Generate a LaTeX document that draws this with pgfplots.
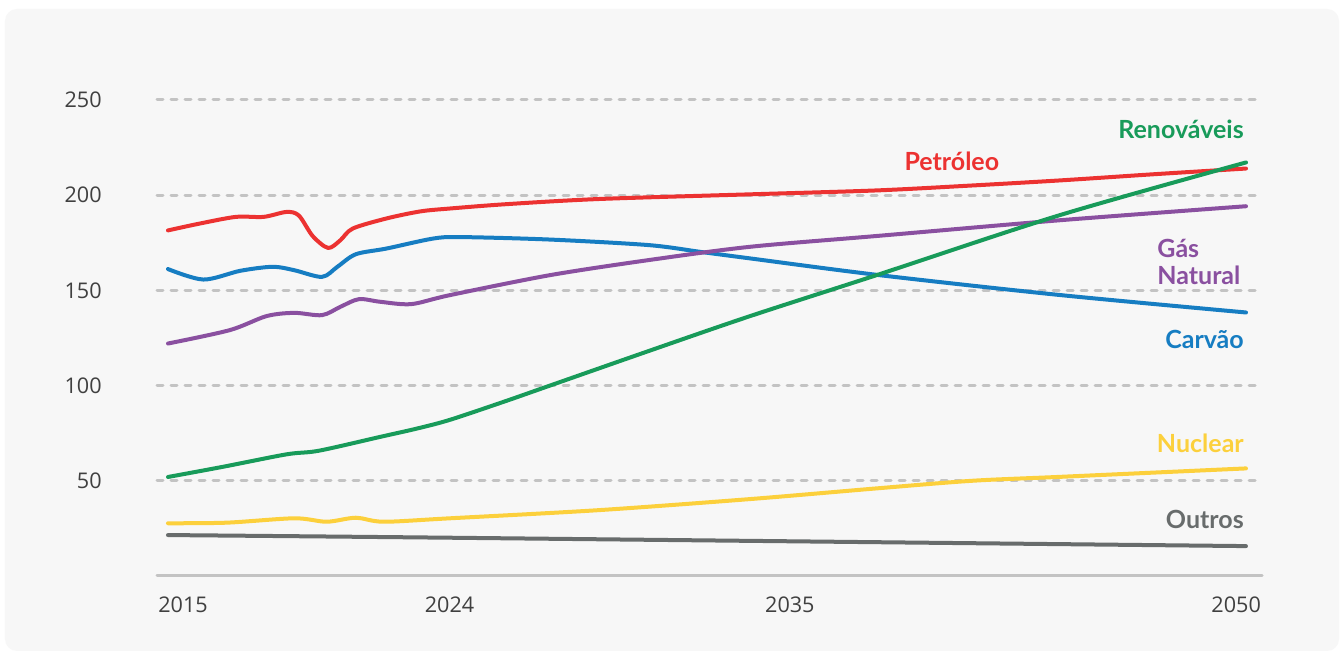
\documentclass[border=0pt]{standalone}
\usepackage{fontspec}
\setmainfont{Open Sans}
\newfontfamily\labfont{Lato}
\usepackage{pgfplots}
\pgfplotsset{compat=1.18}

\definecolor{cRed}{RGB}{236,50,49}
\definecolor{cBlue}{RGB}{22,125,194}
\definecolor{cPurple}{RGB}{138,80,160}
\definecolor{cGreen}{RGB}{24,155,90}
\definecolor{cYellow}{RGB}{252,208,60}
\definecolor{cGray}{RGB}{104,108,108}
\definecolor{gridGray}{RGB}{195,195,195}
\definecolor{tickGray}{RGB}{64,64,64}
\definecolor{bgGray}{RGB}{247,247,247}

\tikzset{serieslabel/.style={inner sep=0pt, font=\labfont\bfseries\fontsize{12.5}{14}\selectfont}}

\begin{document}
\begin{tikzpicture}
% page and card background
\fill[white] (-78.5pt,-38pt) rectangle (593.5pt,288pt);
\fill[bgGray, rounded corners=6pt] (-76pt,-37.5pt) rectangle (591pt,283.5pt);

\begin{axis}[
    scale only axis,
    width=552.5pt, height=238pt,
    xmin=2014.643, xmax=2050.52,
    ymin=0, ymax=250,
    axis line style={draw=none},
    ytick={50,100,150,200,250},
    xtick={2015.49,2024.14,2035.19,2049.68},
    xticklabels={2015,2024,2035,2050},
    major tick length=0pt,
    ymajorgrids,
    grid style={gridGray, line width=1.5pt, line cap=round, dash pattern=on 3pt off 4pt},
    tick label style={font=\fontsize{10.8}{12}\selectfont, text=tickGray},
    /pgf/number format/assume math mode=true,
    yticklabel style={anchor=east, inner sep=0pt, xshift=-27.5pt},
    xticklabel style={anchor=base, inner sep=0pt, yshift=-18.5pt},
    clip=false,
    every axis plot/.append style={line width=2pt, line cap=round, line join=round, smooth, no markers},
]

\draw[gridGray, line width=1.5pt, line cap=round] (rel axis cs:0,0) -- (rel axis cs:1,0);

% Outros
\addplot[cGray] coordinates {
    (2015,21.5) (2024.15,20.1) (2050,15.7)
};

% Nuclear
\addplot[cYellow] coordinates {
    (2015,27.7) (2016.9,28) (2019.1,30.3) (2020.15,28.5) (2021.1,30.6)
    (2022,28.5) (2024.15,30.3) (2029,34.6) (2033.9,40.4) (2038,46)
    (2041.1,50) (2044,52.1) (2050,56.5)
};

% Carvao
\addplot[cBlue] coordinates {
    (2015,161.2) (2016.15,155.7) (2017.35,160.3) (2018.4,162.4) (2019.1,160.6)
    (2020,157.1) (2020.5,162.4) (2021.1,169) (2022.1,172) (2023.6,177.2)
    (2024.5,178) (2027.4,176.7) (2030.6,173.8) (2032.3,170.2) (2033.9,166.8)
    (2038.1,158) (2044,147.5) (2050,138.4)
};

% Gas Natural
\addplot[cPurple] coordinates {
    (2015,122.1) (2017,129.1) (2018.2,136.5) (2019.1,138.2) (2020,137)
    (2020.6,141.4) (2021.2,145.4) (2021.9,144) (2022.9,142.8) (2024.15,147.5)
    (2027.4,158) (2030.6,165.9) (2033.9,172.9) (2038.1,178.7) (2044,186.9)
    (2050,194.2)
};

% Petroleo
\addplot[cRed] coordinates {
    (2015,181.5) (2016,185) (2017.2,188.6) (2018.1,188.6) (2018.85,191.2)
    (2019.25,189.3) (2019.7,178.5) (2020.2,172.3) (2020.6,176.4) (2021,182.5)
    (2022.1,187.8) (2023.2,191.5) (2024.15,193) (2026,195.3) (2029,198)
    (2034,200.5) (2038,202.5) (2041,205) (2044,207.8) (2047,211) (2050,214)
};

% Renovaveis
\addplot[cGreen] coordinates {
    (2015,52) (2016.8,57.4) (2018.85,63.9) (2019.9,65.8) (2021.9,73.1)
    (2023.1,77.5) (2024.15,82) (2025.9,91.5) (2027.4,100) (2030.65,118.4)
    (2033.9,136.5) (2038.1,158.5) (2043.95,189.5) (2050,217.2)
};

% series labels
\node[serieslabel, text=cGreen, anchor=base east] at (axis cs:2049.94,229.9) {Renováveis};
\node[serieslabel, text=cRed, anchor=base] at (axis cs:2040.45,213.1) {Petróleo};
\node[serieslabel, text=cPurple, anchor=base west] at (axis cs:2047.11,167.5) {Gás};
\node[serieslabel, text=cPurple, anchor=base west] at (axis cs:2047.11,153.3) {Natural};
\node[serieslabel, text=cBlue, anchor=base east] at (axis cs:2049.94,119.7) {Carvão};
\node[serieslabel, text=cYellow, anchor=base east] at (axis cs:2049.94,64.6) {Nuclear};
\node[serieslabel, text=cGray, anchor=base east] at (axis cs:2049.94,25.2) {Outros};

\end{axis}
\end{tikzpicture}
\end{document}
